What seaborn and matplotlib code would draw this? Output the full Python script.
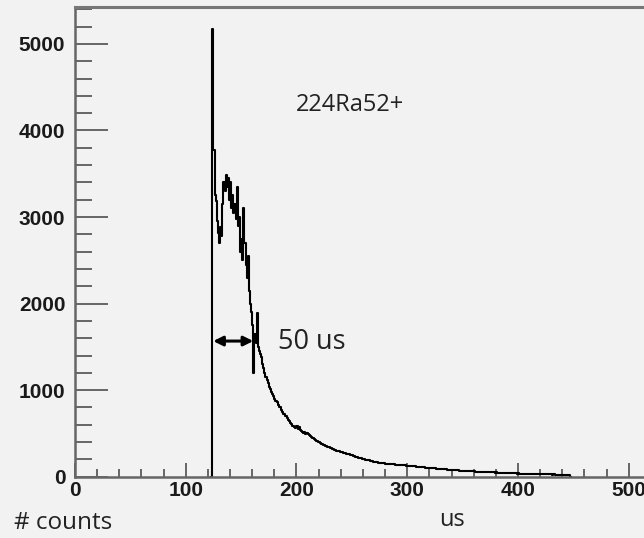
import numpy as np
import pandas as pd
import matplotlib
matplotlib.use("Agg")
import matplotlib.pyplot as plt
import seaborn as sns
from matplotlib.ticker import MultipleLocator

# ---- data (1 us bins, first bin starts at 124 us) ----
bin_start = 124
counts_rise = [5170, 3780, 3250, 3180, 2950, 2820, 2700, 2880, 2780, 3150,
               3400, 3300, 3480, 3350, 3450, 3200, 3400, 3100, 3250, 3050,
               3150, 2980, 3350, 2900, 3000, 2600, 2750, 2500, 3100, 2700,
               2450, 2300, 2550, 2150, 2000, 1900, 1750, 1200, 1650, 1550,
               1890, 1500]
counts_decay = [1450, 1420, 1380, 1300, 1260, 1200, 1150, 1120, 1080, 1040,
                1010, 980, 960, 930, 900, 880, 860, 830, 810, 800,
                770, 750, 730, 720, 700, 680, 660, 640, 620, 610,
                590, 580, 570, 560, 580, 550, 570, 545, 530, 520,
                510, 515, 498, 505, 490, 478, 470, 462, 450, 442,
                430, 425, 412, 405, 398, 390, 382, 376, 370, 362,
                355, 350, 342, 338, 332, 328, 322, 318, 312, 308,
                300, 298, 292, 288, 285, 280, 278, 272, 270, 265,
                260, 258, 252, 248, 245, 240, 236, 232, 228, 224,
                220, 215, 212, 208, 205]
counts_tail = [200, 198, 195, 190, 188, 185, 180, 178, 175, 172,
               170, 168, 165, 162, 160, 158, 160, 155, 154, 152,
               150, 152, 148, 146, 147, 144, 142, 143, 140, 139,
               138, 136, 137, 135, 133, 134, 130, 131, 128, 127,
               126, 124, 125, 122, 120, 121, 118, 116, 117, 114,
               112, 110, 111, 108, 107, 106, 104, 105, 102, 101,
               100, 98, 99, 96, 95, 94, 93, 92, 91, 90,
               88, 89, 86, 85, 84, 83, 82, 80, 81, 79,
               77, 78, 75, 74, 73, 72, 71, 70, 69, 70,
               67, 66, 67, 65, 64, 63, 64, 62, 61, 62,
               60, 59, 60, 58, 59, 58, 56, 57, 55, 54,
               55, 53, 52, 53, 51, 50, 51, 49, 48, 49,
               47, 46, 47, 46, 44, 45, 43, 44, 42, 41,
               42, 40, 41, 39, 38, 39, 37, 38, 36, 37,
               35, 35, 34, 35, 33, 34, 33, 32, 33, 32,
               31, 32, 31, 30, 31, 30, 31, 30, 29, 30,
               29, 28, 29, 28, 27, 28, 27, 26, 27, 26,
               25, 26, 25, 24, 25, 24, 23, 24, 23, 22,
               23, 22, 21, 22, 21, 20]

x_ticks = [0, 100, 200, 300, 400, 500]
y_ticks = [0, 1000, 2000, 3000, 4000, 5000]

counts = np.array(counts_rise + counts_decay + counts_tail, dtype=float)
n_bins = len(counts)
centers = bin_start + np.arange(n_bins) + 0.5
df = pd.DataFrame({"us": centers, "counts": counts})

bg = "#f2f2f2"
fig = plt.figure(figsize=(6.44, 5.38), dpi=100, facecolor=bg)
ax = fig.add_axes([75 / 644, 61.3 / 538, 598 / 644, 470 / 538])
ax.set_facecolor(bg)

# one empty bin on each side so the outline drops to zero at both ends
sns.histplot(data=df, x="us", weights="counts", binwidth=1,
             binrange=(bin_start - 1, bin_start + n_bins + 1), element="step",
             fill=False, color="#000000", linewidth=1.5, ax=ax)

ax.set_xlim(0, 540)
ax.set_ylim(0, 5430)
ax.set_xlabel("")
ax.set_ylabel("")

ax.set_xticks(x_ticks)
ax.set_yticks(y_ticks)
ax.xaxis.set_minor_locator(MultipleLocator(20))
ax.yaxis.set_minor_locator(MultipleLocator(200))
axis_col = "#666666"
ax.tick_params(axis="y", which="major", direction="in", length=24, width=1.4,
               color=axis_col, pad=7)
ax.tick_params(axis="y", which="minor", direction="in", length=12, width=1.4,
               color=axis_col)
ax.tick_params(axis="x", which="major", direction="in", length=10, width=1.4,
               color=axis_col, pad=3)
ax.tick_params(axis="x", which="minor", direction="in", length=5.5, width=1.4,
               color=axis_col)
for lab in ax.get_xticklabels() + ax.get_yticklabels():
    lab.set_fontfamily("Liberation Sans")
    lab.set_fontweight("bold")
    lab.set_fontsize(15)
    lab.set_color("#1a1a1a")

for s in ["left", "bottom", "top", "right"]:
    ax.spines[s].set_color(axis_col)
    ax.spines[s].set_linewidth(1.8)
ax.spines["top"].set_linewidth(2.2)
ax.spines["top"].set_color("#777777")

txt_font = "Open Sans"
ax.text(199.5, 4300, "224Ra52+", fontsize=17, family=txt_font,
        color="#222222", va="center", ha="left")
ax.text(183, 1560, "50 us", fontsize=19.5, family=txt_font, color="#222222",
        va="center", ha="left")
ax.annotate("", xy=(124.8, 1567), xytext=(161, 1567),
            arrowprops=dict(arrowstyle="<|-|>", color="black", lw=2.2,
                            mutation_scale=14, shrinkA=0, shrinkB=0))

fig.text(14 / 644, 1 - 523 / 538, "# counts", fontsize=17.5, family=txt_font,
         color="#222222", va="center", ha="left")
fig.text(452 / 644, 1 - 520 / 538, "us", fontsize=17, family=txt_font,
         color="#222222", va="center", ha="center")

fig.savefig("out.png", dpi=100, facecolor=bg)
